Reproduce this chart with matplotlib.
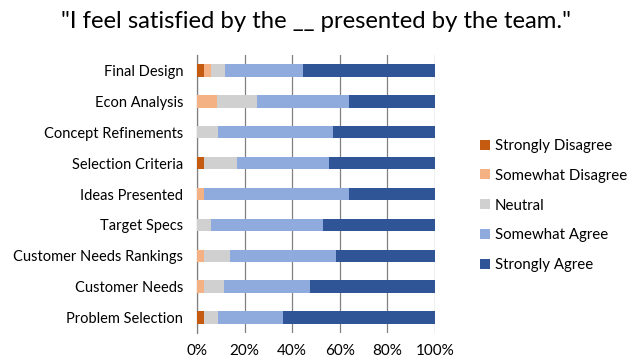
import matplotlib
matplotlib.use("Agg")
import matplotlib.pyplot as plt
import numpy as np

plt.rcParams['font.family'] = ['Lato', 'DejaVu Sans']

categories = ["Problem Selection", "Customer Needs", "Customer Needs Rankings",
              "Target Specs", "Ideas Presented", "Selection Criteria",
              "Concept Refinements", "Econ Analysis", "Final Design"]
series_names = ["Strongly Disagree", "Somewhat Disagree", "Neutral",
                "Somewhat Agree", "Strongly Agree"]
strongly_disagree = [3.1, 0, 0, 0, 0, 3.1, 0, 0, 3.1]
somewhat_disagree = [0, 3.1, 3.1, 0, 3.1, 0, 0, 8.4, 2.8]
neutral = [5.6, 8.4, 10.9, 5.9, 0, 13.9, 8.8, 17.0, 5.7]
somewhat_agree = [27.6, 35.9, 44.3, 47.1, 60.9, 38.5, 48.4, 38.6, 33.1]
strongly_agree = [63.7, 52.6, 41.7, 47.0, 36.0, 44.5, 42.8, 36.0, 55.3]
xticks = [0, 20, 40, 60, 80, 100]

colors = ["#C55A11", "#F4B183", "#D0D0D0", "#8FAADC", "#2F5597"]
data = [strongly_disagree, somewhat_disagree, neutral, somewhat_agree, strongly_agree]

fig = plt.figure(figsize=(6.32, 3.62), dpi=100)
ax = fig.add_axes([197/632, 1-333/362, (435-197)/632, (333-55)/362])

y = np.arange(len(categories))
left = np.zeros(len(categories))
handles = []
for name, vals, c in zip(series_names, data, colors):
    vals = np.array(vals, dtype=float)
    b = ax.barh(y, vals, left=left, height=0.4, color=c, label=name, zorder=3)
    handles.append(b)
    left += vals

ax.set_xlim(0, 100)
ax.set_ylim(-0.5, len(categories) - 0.5)
ax.set_xticks(xticks)
ax.set_xticklabels([f"{t}%" for t in xticks], fontsize=11)
ax.set_yticks(y)
ax.set_yticklabels(categories, fontsize=10.5)
ax.tick_params(axis='y', length=0, pad=10)
ax.tick_params(axis='x', length=0, pad=8)
ax.grid(axis='x', color='#808080', linewidth=0.9, zorder=0)
for s in ['top', 'right', 'bottom']:
    ax.spines[s].set_visible(False)
ax.spines['left'].set_color('#808080')
ax.spines['left'].set_linewidth(0.9)

fig.text(0.5, 1-22/362, '"I feel satisfied by the __ presented by the team."',
         ha='center', va='center', fontsize=17.2)

leg = fig.legend(handles=handles, labels=series_names, loc='upper left',
                 bbox_to_anchor=(474/632, 1-133/362), frameon=False,
                 fontsize=10.8, handlelength=0.65, handleheight=0.65,
                 handletextpad=0.35, labelspacing=1.05, borderaxespad=0)

fig.savefig("out.png", dpi=100)
